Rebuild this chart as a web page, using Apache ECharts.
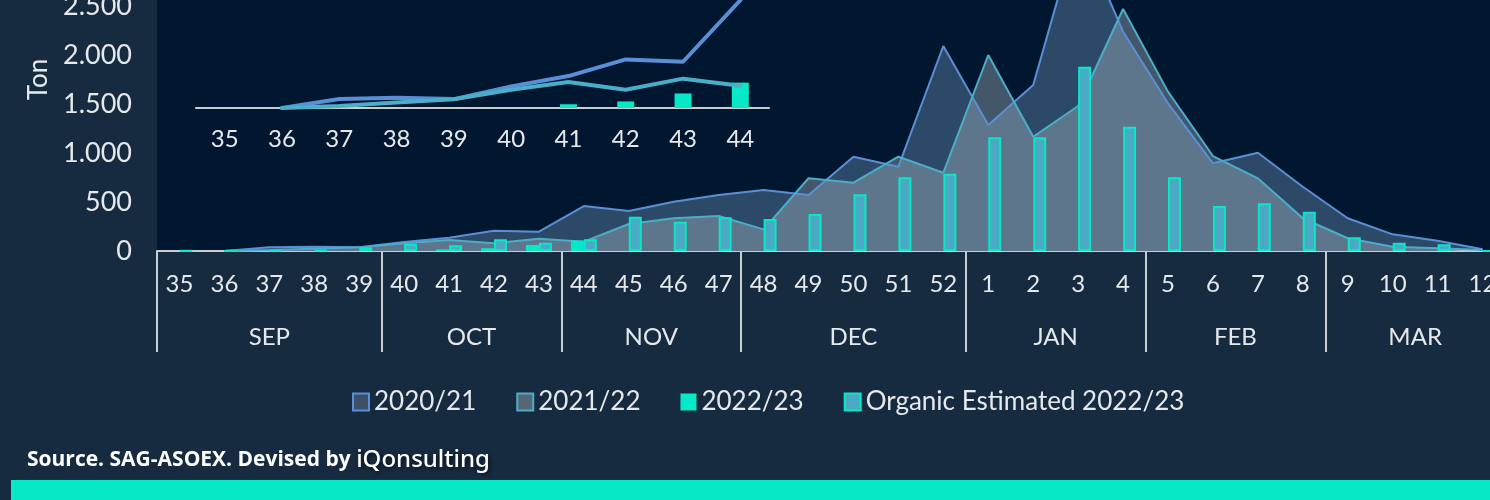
<!DOCTYPE html>
<html>
<head>
<meta charset="utf-8">
<script src="https://cdn.jsdelivr.net/npm/echarts@6/dist/echarts.min.js"></script>
<style>
  html, body { margin: 0; padding: 0; background: #172b40; }
  #chart { width: 1490px; height: 500px; }
</style>
</head>
<body>
<div id="chart"></div>
<script>
// season weeks, SEP (35) .. MAR (12)
const weeks = ['35', '36', '37', '38', '39', '40', '41', '42', '43', '44', '45', '46', '47', '48', '49', '50', '51', '52',
  '1', '2', '3', '4', '5', '6', '7', '8', '9', '10', '11', '12']
const months = ['SEP', 'OCT', 'NOV', 'DEC', 'JAN', 'FEB', 'MAR']
const weeksPerMonth = [5, 4, 4, 5, 4, 4, 4]

// tons per week
const season2021 = ['-', 0, 38, 44, 38, 92, 136, 207, 197, 459, 408, 503, 571, 622, 571, 962, 860, 2092,
  1286, 1694, 3300, 2238, 1507, 895, 1003, 656, 334, 170, 105, 17]
const season2122 = ['-', 0, 9, 23, 37, 78, 111, 78, 125, 95, 275, 334, 357, 221, 742, 697, 962, 799,
  2000, 1166, 1480, 2469, 1626, 969, 742, 334, 130, 44, 27, 10]
const season2223 = ['-', '-', '-', '-', '-', '-', 16, 28, 62, 108, '-', '-', '-', '-', '-', '-', '-', '-',
  '-', '-', '-', '-', '-', '-', '-', '-', '-', '-', '-', '-']
const organic2223 = [4, 5, 6, 10, 38, 71, 58, 119, 85, 119, 350, 299, 344, 327, 378, 578, 752, 789,
  1160, 1160, 1881, 1269, 752, 459, 486, 401, 140, 85, 68, 0]

// zoom box shows the first weeks only
const insetCount = 10

// month row: half-week slots so labels can sit on week boundaries
const monthLabelAt = {}
const monthEdges = [0]
let pos = 0
weeksPerMonth.forEach((n, i) => {
  monthLabelAt[pos * 2 + n] = months[i]
  pos += n
  monthEdges.push(pos * 2)
})
const monthAxisData = Array.from({ length: weeks.length * 2 + 1 }, (_, j) => monthLabelAt[j] || '')

const textColor = '#e6e9ec'
const axisColor = '#c8cdd2'
const font = 'Lato'

const fmtTon = v => v >= 1000 ? Math.floor(v / 1000) + '.' + String(v % 1000).padStart(3, '0') : String(v)

const chart = echarts.init(document.getElementById('chart'))
chart.setOption({
  backgroundColor: '#172b40',
  textStyle: { fontFamily: font },
  animation: false,
  legend: {
    left: 347,
    top: 384,
    itemWidth: 16,
    itemHeight: 17,
    itemGap: 40,
    textStyle: { color: textColor, fontSize: 26, fontFamily: font },
    data: [
      { name: '2020/21', icon: 'rect', itemStyle: { color: '#3c5068', borderColor: '#5a8fd8', borderWidth: 2 } },
      { name: '2021/22', icon: 'rect', itemStyle: { color: '#556777', borderColor: '#4aaec8', borderWidth: 2 } },
      { name: '2022/23', icon: 'rect', itemStyle: { color: '#06e8c6', borderWidth: 0 } },
      { name: 'Organic Estimated 2022/23', icon: 'rect', itemStyle: { color: '#4aaac4', borderColor: '#06e8c6', borderWidth: 2 } }
    ]
  },
  grid: [
    {
      left: 157, right: -15, top: -92, bottom: 249,
      outerBoundsMode: 'none',
      show: true, backgroundColor: '#011730', borderWidth: 0
    },
    { left: 196, top: 0, width: 573, height: 108, outerBoundsMode: 'none' }
  ],
  xAxis: [
    {
      type: 'category',
      gridIndex: 0,
      data: weeks,
      axisLine: { lineStyle: { color: axisColor, width: 2 } },
      axisTick: { show: false },
      axisLabel: { interval: 0, color: textColor, fontSize: 24, margin: 21 }
    },
    {
      type: 'category',
      gridIndex: 0,
      position: 'bottom',
      boundaryGap: false,
      data: monthAxisData,
      axisLine: { show: false },
      axisTick: {
        show: true,
        interval: idx => monthEdges.includes(idx),
        length: 101,
        lineStyle: { color: axisColor, width: 2 }
      },
      axisLabel: { interval: 0, color: textColor, fontSize: 24, margin: 74 }
    },
    {
      type: 'category',
      gridIndex: 1,
      data: weeks.slice(0, insetCount),
      axisLine: { lineStyle: { color: axisColor, width: 2 } },
      axisTick: { show: false },
      axisLabel: { interval: 0, color: textColor, fontSize: 24, margin: 19 }
    }
  ],
  yAxis: [
    {
      type: 'value',
      gridIndex: 0,
      min: 0,
      max: 3500,
      interval: 500,
      name: 'Ton',
      nameLocation: 'middle',
      nameRotate: 90,
      nameGap: 101,
      nameTextStyle: { color: textColor, fontSize: 26 },
      axisLine: { show: false },
      axisTick: { show: false },
      splitLine: { show: false },
      axisLabel: { color: textColor, fontSize: 27, margin: 25, formatter: fmtTon }
    },
    { type: 'value', gridIndex: 1, min: 0, max: 460, show: false }
  ],
  series: [
    {
      name: '2020/21',
      type: 'line',
      data: season2021,
      symbol: 'none',
      lineStyle: { color: '#5a8fd8', width: 2 },
      itemStyle: { color: '#5a8fd8' },
      areaStyle: { color: '#2c4a68', opacity: 1 }
    },
    {
      name: '2021/22',
      type: 'line',
      data: season2122,
      symbol: 'none',
      lineStyle: { color: '#4aaec8', width: 2 },
      itemStyle: { color: '#4aaec8' },
      areaStyle: { color: '#abbac4', opacity: 0.4 }
    },
    {
      name: '2022/23',
      type: 'bar',
      z: 4,
      data: season2223,
      barWidth: 13,
      barGap: '0%',
      itemStyle: { color: '#06e8c6' }
    },
    {
      name: 'Organic Estimated 2022/23',
      type: 'bar',
      z: 4,
      data: organic2223,
      barWidth: 13,
      barGap: '0%',
      itemStyle: { color: '#4aaac4', borderColor: '#06e8c6', borderWidth: 2 }
    },
    // zoom box
    {
      name: '2020/21',
      type: 'line',
      z: 5,
      xAxisIndex: 2,
      yAxisIndex: 1,
      data: season2021.slice(0, insetCount),
      symbol: 'none',
      lineStyle: { color: '#5a8fd8', width: 4, cap: 'round' },
      itemStyle: { color: '#5a8fd8' }
    },
    {
      name: '2021/22',
      type: 'line',
      z: 5,
      xAxisIndex: 2,
      yAxisIndex: 1,
      data: season2122.slice(0, insetCount),
      symbol: 'none',
      lineStyle: { color: '#4aaec8', width: 4, cap: 'round' },
      itemStyle: { color: '#4aaec8' }
    },
    {
      name: '2022/23',
      type: 'bar',
      z: 4,
      xAxisIndex: 2,
      yAxisIndex: 1,
      data: season2223.slice(0, insetCount),
      barWidth: 17,
      itemStyle: { color: '#06e8c6' }
    }
  ],
  graphic: [
    {
      type: 'text',
      left: 27,
      top: 448,
      style: {
        text: '{a|Source. SAG-ASOEX. Devised by }{b|iQonsulting}',
        rich: {
          a: { fill: '#ffffff', fontFamily: 'Open Sans', fontWeight: 700, fontSize: 21 },
          b: {
            fill: '#ffffff', fontFamily: 'Noto Sans', fontWeight: 500, fontSize: 24,
            textShadowColor: 'rgba(0,0,0,0.6)', textShadowBlur: 4, textShadowOffsetX: 2, textShadowOffsetY: 2
          }
        }
      }
    },
    {
      type: 'rect',
      left: 11,
      top: 480,
      shape: { width: 1490, height: 20 },
      style: { fill: '#06e8c6' }
    }
  ]
})
</script>
</body>
</html>
